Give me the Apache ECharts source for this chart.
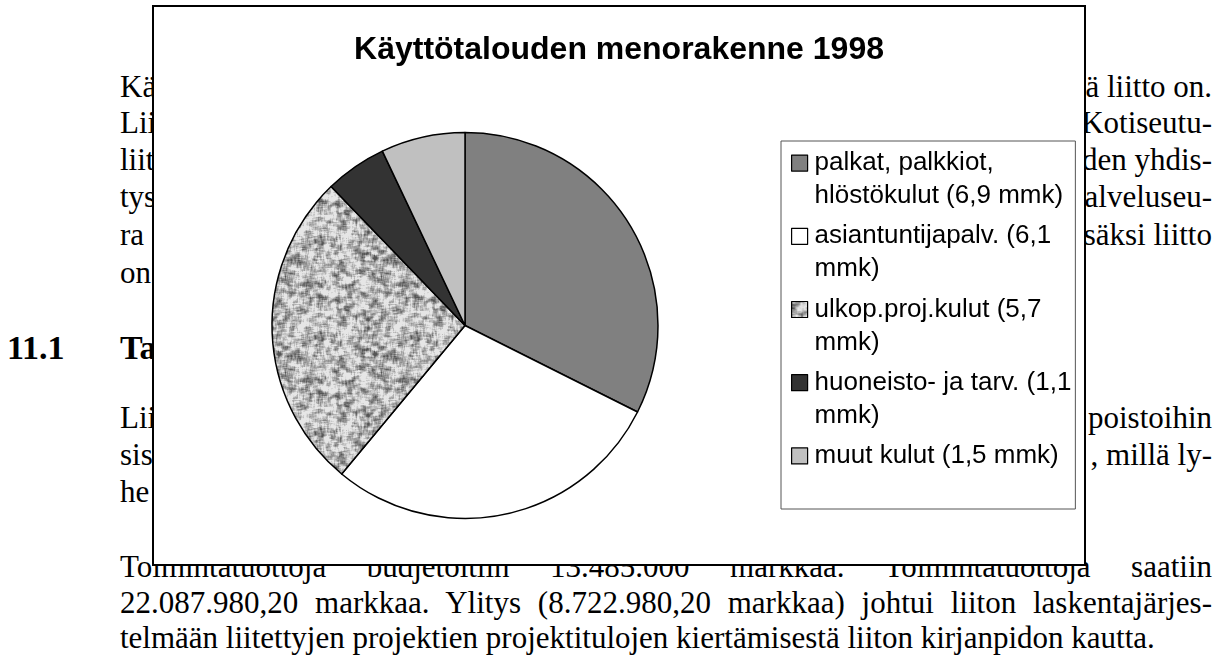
<!DOCTYPE html>
<html>
<head>
  <meta charset="utf-8" />
  <title>Käyttötalouden menorakenne 1998</title>
  <style>
    html, body { margin: 0; padding: 0; background: #fff; }
    body { width: 1223px; height: 657px; position: relative; overflow: hidden; }
    /* document text behind the chart */
    .t {
      position: absolute;
      font-family: "Liberation Serif", "Times New Roman", serif;
      font-size: 31px;
      line-height: 30px;
      color: #000;
      white-space: pre;
      z-index: 0;
    }
    .r { right: 11px; }
    .h { font-weight: bold; font-size: 34px; line-height: 34px; }
    .just { width: 1092px; left: 120px; text-align: justify; text-align-last: justify; white-space: normal; }
    #main {
      position: absolute;
      left: 152px; top: 5px;
      width: 934px; height: 561px;
      box-sizing: border-box;
      border: 2px solid #000;
      background: #fff;
      z-index: 1;
    }
  </style>
  <script src="https://cdn.jsdelivr.net/npm/echarts@6/dist/echarts.min.js"></script>
</head>
<body>
  <!-- page text (only the parts that show around the chart) -->
  <div class="t" style="left:120px;top:72px">Kä</div>
  <div class="t" style="left:120px;top:108px">Lii</div>
  <div class="t" style="left:120px;top:145px">liit</div>
  <div class="t" style="left:120px;top:182px">tys</div>
  <div class="t" style="left:120px;top:220px">ra</div>
  <div class="t" style="left:120px;top:258px">on</div>
  <div class="t r" style="top:72px">ä liitto on.</div>
  <div class="t r" style="top:108px">Kotiseutu-</div>
  <div class="t r" style="top:145px">den yhdis-</div>
  <div class="t r" style="top:182px">alveluseu-</div>
  <div class="t r" style="top:220px">säksi liitto</div>

  <div class="t h" style="left:7px;top:331px">11.1</div>
  <div class="t h" style="left:120px;top:331px">Ta</div>

  <div class="t" style="left:120px;top:403px">Lii</div>
  <div class="t" style="left:120px;top:440px">sis</div>
  <div class="t" style="left:120px;top:477px">he</div>
  <div class="t r" style="top:403px">poistoihin</div>
  <div class="t r" style="top:440px">, millä ly-</div>

  <div class="t just" style="top:552px">Toimintatuottoja budjetoitiin 13.485.000 markkaa. Toimintatuottoja saatiin</div>
  <div class="t just" style="top:588px">22.087.980,20 markkaa. Ylitys (8.722.980,20 markkaa) johtui liiton laskentajärjes-</div>
  <div class="t" style="left:120px;top:623px">telmään liitettyjen projektien projektitulojen kiertämisestä liiton kirjanpidon kautta.</div>

  <div id="main"></div>
  <script type="text/javascript">
    // chart data
    var chartTitle = 'Käyttötalouden menorakenne 1998';
    var categories = [
      'palkat, palkkiot,\nhlöstökulut (6,9 mmk)',
      'asiantuntijapalv. (6,1\nmmk)',
      'ulkop.proj.kulut (5,7\nmmk)',
      'huoneisto- ja tarv. (1,1\nmmk)',
      'muut kulut (1,5 mmk)\n'
    ];
    var values = [6.9, 6.1, 5.7, 1.1, 1.5];

    // speckled grey fill for the "ulkop.proj.kulut" slice (texture only)
    function makeGranite() {
      var n = 96, rad = 2;
      var c = document.createElement('canvas');
      c.width = n; c.height = n;
      var ctx = c.getContext('2d');
      var img = ctx.createImageData(n, n);
      var seed = 12345;
      function next() { seed = (seed * 16807) % 2147483647; return seed / 2147483647; }
      var raw = [];
      for (var i = 0; i < n * n; i++) raw.push(next());
      var cnt = (2 * rad + 1) * (2 * rad + 1);
      for (var y = 0; y < n; y++) {
        for (var x = 0; x < n; x++) {
          var s = 0;
          for (var dy = -rad; dy <= rad; dy++) {
            for (var dx = -rad; dx <= rad; dx++) {
              s += raw[((y + dy + n) % n) * n + ((x + dx + n) % n)];
            }
          }
          s /= cnt;
          var v = Math.max(85, Math.min(230, 184 + (s - 0.5) * 680));
          var p = (y * n + x) * 4;
          img.data[p] = img.data[p + 1] = img.data[p + 2] = v;
          img.data[p + 3] = 255;
        }
      }
      ctx.putImageData(img, 0, 0);
      return c;
    }

    var fills = ['#808080', '#ffffff', { image: makeGranite(), repeat: 'repeat' }, '#333333', '#c0c0c0'];

    var pieData = [];
    for (var i = 0; i < values.length; i++) {
      pieData.push({ name: categories[i], value: values[i], itemStyle: { color: fills[i] } });
    }

    var myChart = echarts.init(document.getElementById('main'), null, { renderer: 'canvas' });

    var option = {
      animation: false,
      title: {
        text: chartTitle,
        left: 'center',
        top: 22,
        textStyle: {
          fontFamily: 'Liberation Sans',
          fontSize: 32,
          fontWeight: 'bold',
          color: '#000'
        }
      },
      legend: {
        orient: 'vertical',
        left: 627,
        top: 134,
        padding: [5, 4, 3, 10],
        itemGap: 6,
        itemWidth: 18,
        itemHeight: 66,
        // square swatch aligned with the first text line
        icon: 'path://M0,0M0,8.5L16,8.5L16,24.5L0,24.5ZM18,66',
        backgroundColor: '#fff',
        borderColor: '#555',
        borderWidth: 1,
        borderRadius: 0,
        selectedMode: false,
        itemStyle: { borderColor: '#000', borderWidth: 1.2 },
        textStyle: {
          fontFamily: 'Liberation Sans',
          fontSize: 26,
          lineHeight: 33,
          color: '#000'
        },
        data: categories
      },
      series: [{
        type: 'pie',
        center: [311, 318.5],
        radius: 193,
        startAngle: 90,
        clockwise: true,
        silent: true,
        label: { show: false },
        labelLine: { show: false },
        emphasis: { disabled: true },
        itemStyle: { borderColor: '#000', borderWidth: 1.5 },
        data: pieData
      }]
    };
    myChart.setOption(option);
  </script>
</body>
</html>
